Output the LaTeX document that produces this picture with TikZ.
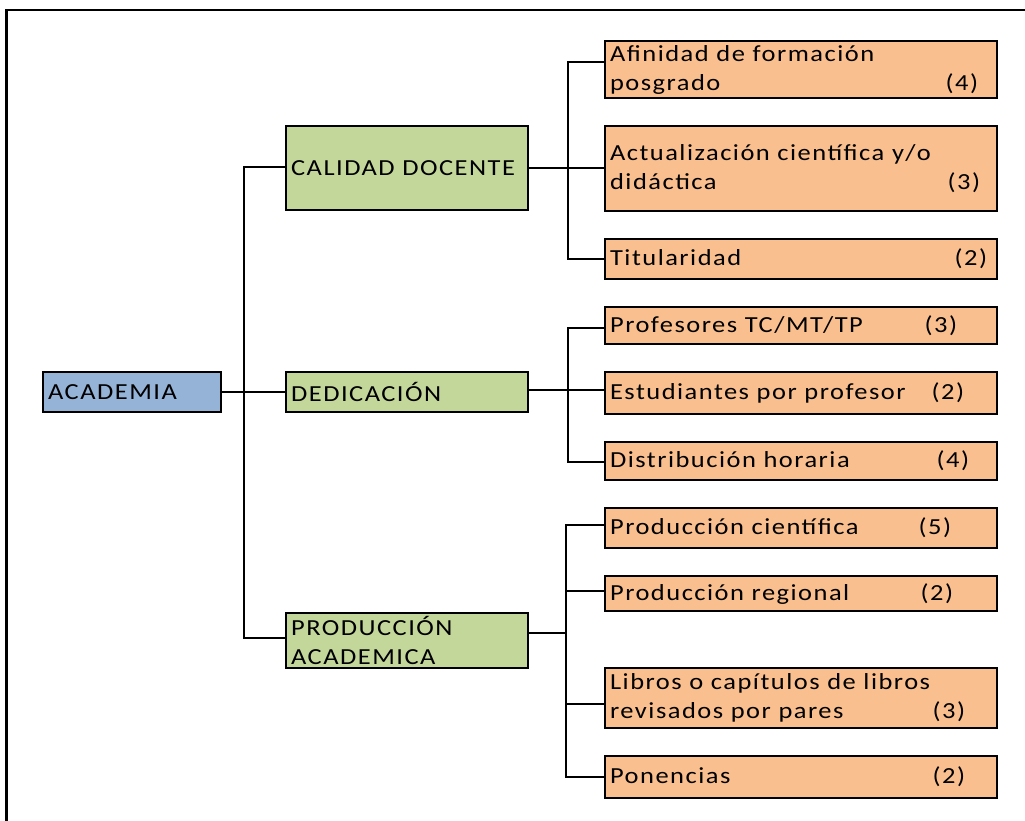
\documentclass[tikz,border=0pt]{standalone}
\usepackage{fontspec}
\setmainfont[FakeStretch=1.15,LetterSpace=6.5]{Carlito}
\definecolor{cblue}{HTML}{95B3D7}
\definecolor{cgreen}{HTML}{C4D79B}
\definecolor{corange}{HTML}{F9BF8F}
\newcommand{\numline}[3]{\makebox[#3pt][l]{#1\hfill #2}}
\begin{document}
\begin{tikzpicture}[x=1pt,y=-1pt,
  box/.style={draw=black,line width=2.2pt,inner xsep=5pt,inner ysep=0pt,anchor=north west,font=\fontsize{23}{29}\selectfont,align=left},
  mainbox/.style={box,fill=cblue,text width=168pt,minimum height=40pt},
  catbox/.style={box,fill=cgreen,text width=232pt},
  itembox/.style={box,fill=corange,text width=382pt},
  conn/.style={line width=1.6pt}]
\useasboundingbox (0,0) rectangle (1025,821);
\draw[line width=2.4pt] (6.5,821) -- (6.5,10) -- (1025,10);

\node[mainbox] (acad) at (42,371) {ACADEMIA};
\node[catbox,minimum height=84pt] (cal) at (285,125) {CALIDAD DOCENTE};
\node[catbox,minimum height=40pt] (ded) at (285,371) {DEDICACIÓN};
\node[catbox,minimum height=55pt] (prod) at (285,612) {PRODUCCIÓN\\ACADEMICA};

\node[itembox,minimum height=57pt] (i1) at (604,40) {Afinidad de formación\\\numline{posgrado}{(4)}{368}};
\node[itembox,minimum height=85pt] (i2) at (604,125) {Actualización científica y/o\\\numline{didáctica}{(3)}{370}};
\node[itembox,minimum height=40pt] (i3) at (604,238) {\numline{Titularidad}{(2)}{377}};
\node[itembox,minimum height=37pt] (i4) at (604,306) {\numline{Profesores TC/MT/TP}{(3)}{347}};
\node[itembox,minimum height=42pt] (i5) at (604,371) {\numline{Estudiantes por profesor}{(2)}{354}};
\node[itembox,minimum height=38pt] (i6) at (604,441) {\numline{Distribución horaria}{(4)}{359}};
\node[itembox,minimum height=40pt] (i7) at (604,507) {\numline{Producción científica}{(5)}{341}};
\node[itembox,minimum height=35pt] (i8) at (604,575) {\numline{Producción regional}{(2)}{343}};
\node[itembox,minimum height=60pt] (i9) at (604,667) {Libros o capítulos de libros\\\numline{revisados por pares}{(3)}{355}};
\node[itembox,minimum height=42pt] (i10) at (604,755) {\numline{Ponencias}{(2)}{355}};

% left trunk
\coordinate (t1) at (244,167);
\coordinate (t2) at (244,638);
\draw[conn] (cal.west |- t1) -- (t1) -- (t2) -- (prod.west |- t2);
\draw[conn] (acad.east) -- (ded.west);

% calidad group
\coordinate (a1) at (568,62);
\coordinate (a2) at (568,168);
\coordinate (a3) at (568,259);
\draw[conn] (i1.west |- a1) -- (a1) -- (a3) -- (i3.west |- a3);
\draw[conn] (cal.east |- a2) -- (i2.west |- a2);

% dedicacion group
\coordinate (b1) at (568,328);
\coordinate (b2) at (568,390);
\coordinate (b3) at (568,462);
\draw[conn] (i4.west |- b1) -- (b1) -- (b3) -- (i6.west |- b3);
\draw[conn] (ded.east |- b2) -- (i5.west |- b2);

% produccion group
\coordinate (c1) at (566,525);
\coordinate (c2) at (566,591);
\coordinate (c0) at (566,633);
\coordinate (c3) at (566,704);
\coordinate (c4) at (566,777);
\draw[conn] (i7.west |- c1) -- (c1) -- (c4) -- (i10.west |- c4);
\draw[conn] (c2) -- (i8.west |- c2);
\draw[conn] (c3) -- (i9.west |- c3);
\draw[conn] (prod.east |- c0) -- (c0);
\end{tikzpicture}
\end{document}
